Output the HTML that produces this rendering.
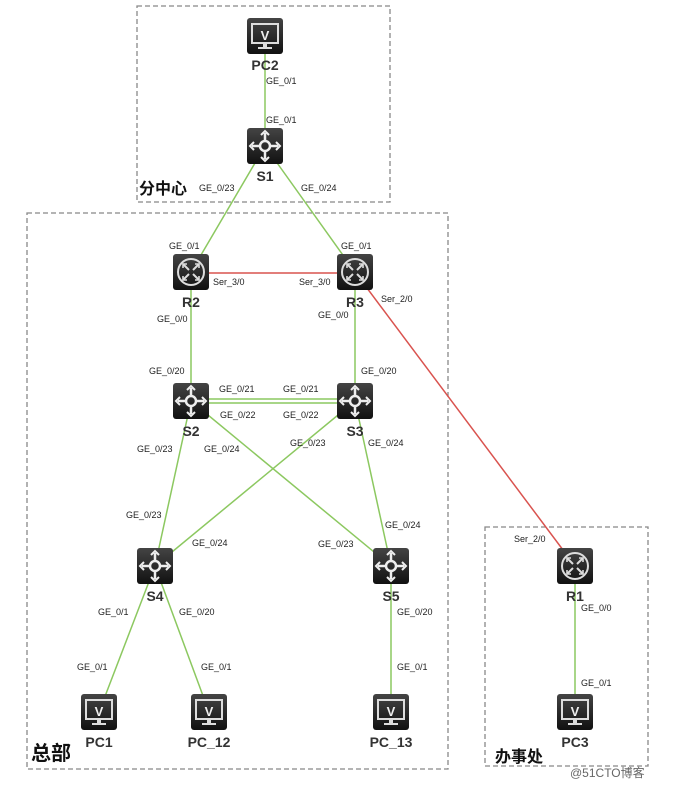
<!DOCTYPE html>
<html><head><meta charset="utf-8"><style>
body{margin:0;background:#fff;}
svg{display:block;font-family:"Liberation Sans",Arial,sans-serif;}
.p{font-size:9px;fill:#222;}
.n{font-size:14px;font-weight:bold;fill:#333;}
.z{font-size:16px;font-weight:bold;fill:#111;font-family:"Noto Sans CJK SC",sans-serif;}
</style></head><body>
<svg width="677" height="789" viewBox="0 0 677 789">
<defs>
<linearGradient id="g" x1="0" y1="0" x2="0" y2="1"><stop offset="0" stop-color="#444"/><stop offset="1" stop-color="#111"/></linearGradient>
<g id="pc"><rect x="-18" y="-18" width="36" height="36" rx="3" fill="url(#g)"/><rect x="-13" y="-12" width="26" height="19" fill="none" stroke="#ddd" stroke-width="2"/><text x="0" y="4" text-anchor="middle" font-size="13" font-weight="bold" fill="#eee" font-family="Liberation Sans">V</text><rect x="-2" y="8" width="4" height="3" fill="#ddd"/><rect x="-7" y="11" width="14" height="2" fill="#ddd"/></g>
<g id="sw"><rect x="-18" y="-18" width="36" height="36" rx="3" fill="url(#g)"/><circle r="5" fill="none" stroke="#eee" stroke-width="2.5"/><path d="M0-5V-13M0 5V13M-5 0H-13M5 0H13" stroke="#eee" stroke-width="2.5"/><path d="M-4-11L0-15L4-11M-4 11L0 15L4 11M-11-4L-15 0L-11 4M11-4L15 0L11 4" fill="none" stroke="#eee" stroke-width="2"/></g>
<g id="rt"><rect x="-18" y="-18" width="36" height="36" rx="3" fill="url(#g)"/><circle r="13" fill="none" stroke="#ddd" stroke-width="2"/><path d="M-8-8L-2-2M8-8L2-2M-8 8L-2 2M8 8L2 2" stroke="#ddd" stroke-width="2"/><path d="M-8-4V-8H-4M8-4V-8H4M-8 4V8H-4M8 4V8H4" fill="none" stroke="#ddd" stroke-width="1.6"/></g>
</defs>
<g fill="none" stroke="#888" stroke-width="1.3" stroke-dasharray="5,3">
<rect x="137" y="6" width="253" height="196"/>
<rect x="27" y="213" width="421" height="556"/>
<rect x="485" y="527" width="163" height="239"/>
</g>
<g stroke="#8cc860" stroke-width="1.5">
<line x1="265" y1="36" x2="265" y2="146"/>
<line x1="265" y1="146" x2="191" y2="272"/>
<line x1="265" y1="146" x2="355" y2="272"/>
<line x1="191" y1="272" x2="191" y2="401"/>
<line x1="355" y1="272" x2="355" y2="401"/>
<line x1="191" y1="399" x2="355" y2="399"/>
<line x1="191" y1="403" x2="355" y2="403"/>
<line x1="191" y1="401" x2="155" y2="566"/>
<line x1="191" y1="401" x2="391" y2="566"/>
<line x1="355" y1="401" x2="155" y2="566"/>
<line x1="355" y1="401" x2="391" y2="566"/>
<line x1="155" y1="566" x2="99" y2="712"/>
<line x1="155" y1="566" x2="209" y2="712"/>
<line x1="391" y1="566" x2="391" y2="712"/>
<line x1="575" y1="566" x2="575" y2="712"/>
</g>
<g stroke="#d9534f" stroke-width="1.5">
<line x1="191" y1="273" x2="355" y2="273"/>
<line x1="355" y1="272" x2="575" y2="566"/>
</g>
<use href="#pc" x="265" y="36"/><use href="#sw" x="265" y="146"/>
<use href="#rt" x="191" y="272"/><use href="#rt" x="355" y="272"/>
<use href="#sw" x="191" y="401"/><use href="#sw" x="355" y="401"/>
<use href="#sw" x="155" y="566"/><use href="#sw" x="391" y="566"/>
<use href="#pc" x="99" y="712"/><use href="#pc" x="209" y="712"/><use href="#pc" x="391" y="712"/>
<use href="#rt" x="575" y="566"/><use href="#pc" x="575" y="712"/>
<g class="n" text-anchor="middle">
<text x="265" y="70">PC2</text><text x="265" y="181">S1</text>
<text x="191" y="307">R2</text><text x="355" y="307">R3</text>
<text x="191" y="436">S2</text><text x="355" y="436">S3</text>
<text x="155" y="601">S4</text><text x="391" y="601">S5</text>
<text x="99" y="747">PC1</text><text x="209" y="747">PC_12</text><text x="391" y="747">PC_13</text>
<text x="575" y="601">R1</text><text x="575" y="747">PC3</text>
</g>
<g class="p">
<text x="266" y="84">GE_0/1</text><text x="266" y="123">GE_0/1</text>
<text x="199" y="191">GE_0/23</text><text x="301" y="191">GE_0/24</text>
<text x="169" y="249">GE_0/1</text><text x="341" y="249">GE_0/1</text>
<text x="213" y="285">Ser_3/0</text><text x="299" y="285">Ser_3/0</text>
<text x="381" y="302">Ser_2/0</text>
<text x="157" y="322">GE_0/0</text><text x="318" y="318">GE_0/0</text>
<text x="149" y="374">GE_0/20</text><text x="361" y="374">GE_0/20</text>
<text x="219" y="392">GE_0/21</text><text x="283" y="392">GE_0/21</text>
<text x="220" y="418">GE_0/22</text><text x="283" y="418">GE_0/22</text>
<text x="137" y="452">GE_0/23</text><text x="204" y="452">GE_0/24</text>
<text x="290" y="446">GE_0/23</text><text x="368" y="446">GE_0/24</text>
<text x="126" y="518">GE_0/23</text><text x="385" y="528">GE_0/24</text>
<text x="192" y="546">GE_0/24</text><text x="318" y="547">GE_0/23</text>
<text x="98" y="615">GE_0/1</text><text x="179" y="615">GE_0/20</text>
<text x="397" y="615">GE_0/20</text>
<text x="77" y="670">GE_0/1</text><text x="201" y="670">GE_0/1</text><text x="397" y="670">GE_0/1</text>
<text x="514" y="542">Ser_2/0</text>
<text x="581" y="611">GE_0/0</text><text x="581" y="686">GE_0/1</text>
</g>
<text class="z" x="139" y="194">分中心</text>
<text class="z" x="31" y="760" style="font-size:20px">总部</text>
<text class="z" x="495" y="762">办事处</text>
<text x="570" y="777" font-size="12" fill="#666" font-family="Liberation Sans,Noto Sans CJK SC,sans-serif">@51CTO博客</text>
</svg>
</body></html>
